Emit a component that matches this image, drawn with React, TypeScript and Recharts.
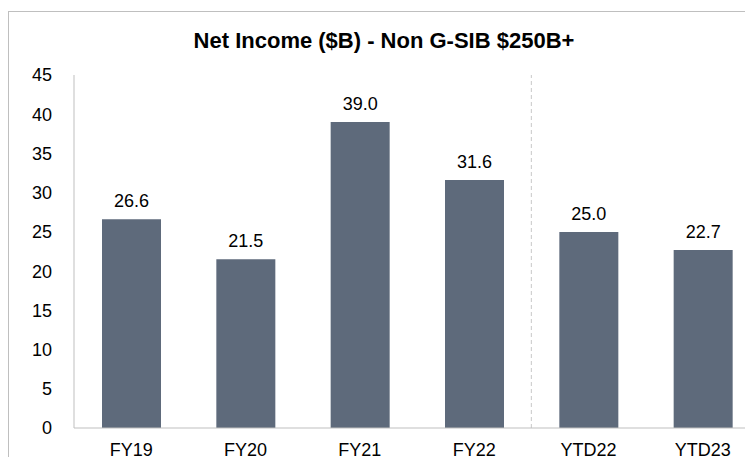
import { BarChart, Bar, XAxis, YAxis, ReferenceLine, LabelList } from 'recharts'

const PERIODS = ['FY19', 'FY20', 'FY21', 'FY22', 'YTD22', 'YTD23']
const NET_INCOME = [26.6, 21.5, 39.0, 31.6, 25.0, 22.7]
const Y_TICKS = [0, 5, 10, 15, 20, 25, 30, 35, 40, 45]

const FONT = '"Liberation Sans", Arial, sans-serif'
const BAR_COLOR = '#5e6a7b'
const AXIS_COLOR = '#bfbfbf'

const data = PERIODS.map((p, i) => ({ period: p, value: NET_INCOME[i] }))

export default function App() {
  return (
    <div style={{ position: 'relative', width: 745, height: 449, overflow: 'hidden', fontFamily: FONT }}>
      <div
        style={{
          position: 'absolute',
          top: 3,
          left: 0,
          width: 800,
          height: 500,
          borderTop: `1px solid ${AXIS_COLOR}`,
          borderLeft: `1px solid ${AXIS_COLOR}`,
        }}
      />
      <div style={{ position: 'absolute', top: 0, left: 0 }}>
        <BarChart width={752} height={460} data={data} margin={{ top: 67, right: 0, left: 0, bottom: 0 }}>
          <text x={376} y={40} textAnchor="middle" fontSize={22} fontWeight="bold" fill="#000" fontFamily={FONT}>
            Net Income ($B) - Non G-SIB $250B+
          </text>
          <XAxis
            dataKey="period"
            height={40}
            tickLine={false}
            tickSize={0}
            tickMargin={15}
            axisLine={{ stroke: AXIS_COLOR, strokeWidth: 1 }}
            tick={{ fontSize: 18, fill: '#000', fontFamily: FONT }}
            interval={0}
          />
          <YAxis
            width={66}
            domain={[0, 45]}
            ticks={Y_TICKS}
            tickLine={false}
            tickSize={0}
            tickMargin={22}
            axisLine={{ stroke: AXIS_COLOR, strokeWidth: 1 }}
            tick={{ fontSize: 18, fill: '#000', fontFamily: FONT }}
          />
          <ReferenceLine x="YTD22" position="start" stroke="#c8c8c8" strokeDasharray="4 3" strokeWidth={1} />
          <Bar dataKey="value" fill={BAR_COLOR} barSize={59} isAnimationActive={false}>
            <LabelList
              dataKey="value"
              position="top"
              offset={12}
              formatter={(v: unknown) => Number(v).toFixed(1)}
              style={{ fontSize: 18, fill: '#000', fontFamily: FONT }}
            />
          </Bar>
        </BarChart>
      </div>
    </div>
  )
}
